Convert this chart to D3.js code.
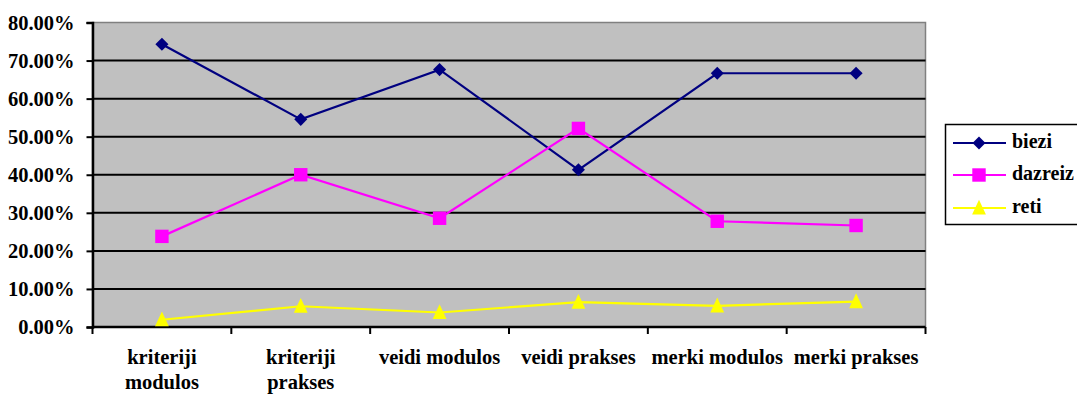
<!DOCTYPE html>
<html>
<head>
<meta charset="utf-8">
<script src="https://cdn.jsdelivr.net/npm/d3@7"></script>
<style>
  html, body { margin: 0; padding: 0; background: #ffffff; }
  svg { display: block; }
  text { font-family: "Liberation Serif", "Times New Roman", serif; font-weight: bold; fill: #000; }
</style>
</head>
<body>
<svg id="chart" width="1077" height="394"></svg>
<script>
// Categories along the x axis (each may wrap to two lines)
const categories = ["kriteriji modulos", "kriteriji prakses", "veidi modulos", "veidi prakses", "merki modulos", "merki prakses"];
const categoryLines = [["kriteriji", "modulos"], ["kriteriji", "prakses"], ["veidi modulos"], ["veidi prakses"], ["merki modulos"], ["merki prakses"]];

// Share of answers per category (fractions)
const biezi   = [0.7429, 0.5455, 0.6762, 0.4130, 0.6667, 0.6667];
const dazreiz = [0.2381, 0.4000, 0.2857, 0.5217, 0.2778, 0.2667];
const reti    = [0.0190, 0.0545, 0.0381, 0.0652, 0.0556, 0.0667];

const seriesNames = ["biezi", "dazreiz", "reti"];
const yTicks = [0, 0.1, 0.2, 0.3, 0.4, 0.5, 0.6, 0.7, 0.8];

// Marker shapes: square-diamond, square, tall triangle
const diamond = { draw(ctx, size) { const r = Math.sqrt(size / 2); ctx.moveTo(0, -r); ctx.lineTo(r, 0); ctx.lineTo(0, r); ctx.lineTo(-r, 0); ctx.closePath(); } };
const triangle = { draw(ctx, size) { const w = Math.sqrt(size) / 2; ctx.moveTo(0, -w * 1.2); ctx.lineTo(w, w * 0.95); ctx.lineTo(-w, w * 0.95); ctx.closePath(); } };

const series = [
  { name: seriesNames[0], values: biezi,   color: "#000080", symbol: diamond,         size: 85 },
  { name: seriesNames[1], values: dazreiz, color: "#ff00ff", symbol: d3.symbolSquare, size: 180 },
  { name: seriesNames[2], values: reti,    color: "#ffff00", symbol: triangle,        size: 190 }
];

const svg = d3.select("#chart");
const plot = { left: 92.5, right: 925.5, top: 22.5, bottom: 327 };

const x = d3.scaleBand().domain(categories).range([plot.left, plot.right]).paddingInner(0).paddingOuter(0);
const y = d3.scaleLinear().domain([0, 0.8]).range([plot.bottom, plot.top]);

// Plot background
svg.append("rect")
  .attr("x", plot.left).attr("y", plot.top)
  .attr("width", plot.right - plot.left).attr("height", plot.bottom - plot.top)
  .attr("fill", "#c0c0c0")
  .attr("stroke", "#808080").attr("stroke-width", 1.5);

// Horizontal gridlines
svg.append("g")
  .selectAll("line")
  .data(yTicks.filter(t => t > 0 && t < 0.8))
  .join("line")
  .attr("x1", plot.left).attr("x2", plot.right)
  .attr("y1", d => y(d)).attr("y2", d => y(d))
  .attr("stroke", "#000").attr("stroke-width", 2);

// Y axis
const yAxis = svg.append("g")
  .attr("transform", `translate(${plot.left},0)`)
  .call(d3.axisLeft(y).tickValues(yTicks).tickFormat(d => (d * 100).toFixed(2) + "%").tickSize(6).tickPadding(12));
yAxis.select(".domain").attr("stroke", "#000").attr("stroke-width", 2.5);
yAxis.selectAll(".tick line").attr("stroke", "#000").attr("stroke-width", 2);
yAxis.selectAll(".tick text")
  .attr("font-size", 20.5).attr("fill", "#000").attr("dy", "0.34em");

// X axis with ticks on category boundaries
const xAxisG = svg.append("g").attr("transform", `translate(0,${plot.bottom})`);
xAxisG.append("line")
  .attr("x1", plot.left).attr("x2", plot.right)
  .attr("stroke", "#000").attr("stroke-width", 2.5);
const boundaries = categories.map(c => x(c)).concat([x(categories[categories.length - 1]) + x.bandwidth()]);
xAxisG.selectAll("line.tk")
  .data(boundaries)
  .join("line").attr("class", "tk")
  .attr("x1", d => d).attr("x2", d => d)
  .attr("y1", 0).attr("y2", 7)
  .attr("stroke", "#000").attr("stroke-width", 2);

// Category labels
const labels = svg.append("g");
categories.forEach((c, i) => {
  const cx = x(c) + x.bandwidth() / 2;
  const t = labels.append("text")
    .attr("text-anchor", "middle")
    .attr("font-size", 20.5);
  categoryLines[i].forEach((line, j) => {
    t.append("tspan").attr("x", cx).attr("y", 364 + j * 25).text(line);
  });
});

// Lines and markers
const line = d3.line()
  .x((d, i) => x(categories[i]) + x.bandwidth() / 2)
  .y(d => y(d));

series.forEach(s => {
  svg.append("path")
    .datum(s.values)
    .attr("fill", "none")
    .attr("stroke", s.color)
    .attr("stroke-width", 2.2)
    .attr("d", line);
  svg.append("g")
    .selectAll("path")
    .data(s.values)
    .join("path")
    .attr("transform", (d, i) => `translate(${x(categories[i]) + x.bandwidth() / 2},${y(d)})`)
    .attr("d", d3.symbol().type(s.symbol).size(s.size))
    .attr("fill", s.color);
});

// Legend
const legend = svg.append("g");
legend.append("rect")
  .attr("x", 945.5).attr("y", 124.5).attr("width", 140).attr("height", 100)
  .attr("fill", "#fff").attr("stroke", "#000").attr("stroke-width", 1.5);
const rowY = [143, 175, 208];
series.forEach((s, i) => {
  const g = legend.append("g").attr("transform", `translate(0,${rowY[i]})`);
  g.append("line").attr("x1", 953).attr("x2", 1006).attr("y1", 0).attr("y2", 0)
    .attr("stroke", s.color).attr("stroke-width", 2.2);
  g.append("path").attr("transform", "translate(979,0)")
    .attr("d", d3.symbol().type(s.symbol).size(s.size)).attr("fill", s.color);
  g.append("text").attr("x", 1012).attr("y", 5).attr("font-size", 20).text(s.name);
});
</script>
</body>
</html>
